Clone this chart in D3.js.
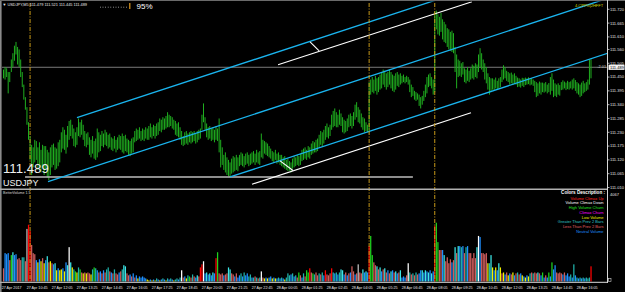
<!DOCTYPE html>
<html>
<head>
<meta charset="utf-8">
<script src="https://cdn.jsdelivr.net/npm/d3@7"></script>
<style>
  body { margin: 0; background: #000; }
  svg { display: block; }
</style>
</head>
<body>
<svg id="chart" width="625" height="292"></svg>
<script>
// prices in points above BASE (111.000), one entry per M5 bar
const BASE = 111;
const hiPts = [
  480,490,485,470,470,520,545,575,590,570, 560,520,470,420,370,330,270,215,180,170,
  200,195,170,190,160,180,175,175,160,150, 170,180,185,170,165,190,200,230,250,240,
  220,255,275,280,260,245,230,250,285,270, 280,260,235,225,230,210,200,215,195,205,
  245,230,220,235,225,240,230,220,225,210, 205,215,200,210,220,215,225,215,220,205,
  200,195,205,210,235,245,240,250,235,245, 240,250,245,255,265,250,260,255,265,270,
  285,280,290,285,295,310,300,295,290,280, 275,265,270,250,235,215,230,235,225,230,
  235,230,235,225,235,240,245,300,345,290, 265,250,255,245,250,240,255,245,285,200,
  170,140,150,130,120,110,125,135,130,140, 130,140,150,145,135,145,150,140,145,150,
  155,145,160,150,155,225,200,195,190,185, 175,165,155,150,160,145,150,140,140,130,
  135,120,125,115,110,125,135,130,140,135, 145,160,165,170,160,175,170,185,195,190,
  200,205,220,235,230,240,255,265,250,260, 300,315,325,310,300,320,305,290,280,275,
  285,300,305,295,310,340,350,330,320,305, 290,285,270,260,430,440,450,440,455,445,
  450,460,470,480,475,465,470,480,470,460, 455,465,470,460,465,455,460,450,455,450,
  440,420,410,395,390,385,380,370,375,395, 420,450,460,465,450,440,710,715,700,690,
  705,680,670,660,645,640,630,635,625,570, 540,520,515,505,510,485,480,490,475,485,
  500,495,505,500,540,565,545,520,505,490, 465,450,445,445,440,448,435,445,450,480,
  497,490,475,470,465,468,460,465,455,448, 445,440,447,445,448,445,449,444,446,440,
  435,430,425,432,428,428,425,430,420,426, 450,465,440,425,420,425,418,430,437,432,
  428,435,430,433,440,445,438,430,425,420, 428,435,425,430,440,520,521
];
const loPts = [
  445,440,450,385,430,470,490,515,540,500, 490,450,410,360,320,260,200,120,60,90,
  110,120,80,100,70,90,60,80,50,40, 60,90,100,80,85,95,110,150,165,160,
  145,170,200,215,205,175,170,180,215,210, 220,200,175,170,180,140,130,145,125,120,
  130,150,155,175,170,180,175,165,170,160, 155,165,150,160,165,160,150,145,155,150,
  140,135,145,150,190,195,200,205,195,200, 195,205,200,200,210,205,215,205,215,220,
  235,230,240,240,245,250,250,255,245,240, 220,215,210,200,180,175,180,185,180,190,
  185,190,195,185,190,200,205,240,270,240, 210,200,205,195,200,190,200,195,150,90,
  100,80,70,60,55,50,65,70,75,80, 75,95,100,95,90,100,105,95,100,105,
  110,100,110,105,100,130,125,145,140,135, 130,125,115,110,120,105,110,100,95,90,
  85,80,75,77,70,85,90,95,100,95, 100,115,120,125,120,130,125,140,145,150,
  150,155,170,180,175,185,200,210,205,215, 240,250,255,250,250,260,255,230,225,230,
  235,250,255,245,255,280,290,270,265,250, 240,230,235,230,230,380,390,385,395,380,
  390,400,405,420,410,400,410,420,405,395, 390,400,415,410,420,425,430,425,430,420,
  390,370,375,360,355,360,335,325,340,355, 370,385,410,415,405,380,390,640,620,615,
  630,600,590,585,570,560,555,550,545,470, 405,450,455,450,460,430,425,435,430,440,
  445,440,450,445,470,490,480,470,440,425, 400,380,390,400,398,405,400,405,410,430,
  440,445,435,430,420,425,418,422,420,410, 412,408,415,410,418,420,422,417,420,415,
  390,370,375,385,380,390,388,392,385,390, 380,395,370,375,370,380,376,398,400,405,
  398,402,400,405,400,405,395,385,380,370, 375,385,390,395,400,420,445
];
const volumes = [
  600,1290,1240,1290,970,1200,1330,1200,1240,1010, 1060,970,1100,1100,920,2390,2580,2300,1660,1290,
  1240,970,870,1010,920,1060,830,970,1150,870, 920,830,780,830,510,600,510,550,600,460,
  870,740,1560,870,640,550,460,410,640,550, 410,370,410,370,410,370,320,550,640,600,
  510,410,460,370,510,410,550,640,460,410, 370,550,370,320,410,460,550,740,690,370,
  280,320,230,370,180,280,140,230,180,230, 180,140,90,50,90,50,90,50,140,90,
  50,90,140,90,50,140,90,140,90,50, 90,140,90,180,510,180,230,140,280,230,
  180,320,230,180,280,230,640,780,920,370, 410,320,370,280,410,370,1060,1330,370,320,
  370,280,320,370,640,550,370,320,230,370, 180,280,370,230,410,280,370,230,320,180,
  180,230,180,140,180,460,180,140,180,140, 180,230,140,180,140,140,180,140,180,140,
  90,180,370,280,320,370,230,280,180,410, 280,180,370,230,510,410,600,410,370,320,
  410,280,370,320,410,280,510,320,280,370, 600,410,370,410,320,410,550,510,320,410,
  280,370,410,690,460,320,370,780,410,370, 550,410,460,410,1610,2070,1200,870,740,690,
  550,640,460,550,600,410,510,370,460,510, 410,460,370,410,510,180,230,180,280,830,
  410,320,370,280,410,320,370,510,510,410, 510,460,410,510,370,460,2530,2670,1790,1430,
  1430,1430,1200,920,1100,830,1010,870,970,1560, 1290,1610,1610,1560,1610,1290,1560,1610,1290,1290,
  1060,1290,1060,1560,2070,2020,1290,1290,1240,1290, 830,830,1200,640,510,640,510,830,640,370,
  410,320,410,280,370,320,410,280,370,410, 320,370,280,230,180,280,230,370,410,370,
  410,370,410,370,280,410,180,280,180,410, 230,870,550,740,410,370,410,370,320,410,
  280,370,230,320,180,780,280,180,140,180, 140,180,140,180,140,180,690
];
// one letter per bar: BetterVolume class
const volumeClass = (
  "lnnnlcgnnl" + "llttlsrrll" + "lnynylyngl" + "ylngynyyny" + "ngwgytcytc" +
  "lylyllytct" + "nlnlnlttln" + "ltllnltggl" + "lnlnlnynnn" + "nnyynynytn" +
  "yntnytntny" + "ttntwlnytc" + "ltlnglrrwn" + "gngngnrcll" + "lnllggllnl" +
  "nntntnnttn" + "tltltwlyny" + "nnynyntntn" + "ytttntntlc" + "lntlccrlct" +
  "lltltnrlll" + "rtntntggnl" + "nlnllnlsll" + "gngnrccllg" + "lgnlglnlgn" +
  "lgnlgnnnlw" + "tltltlnngn" + "gngngnrccl" + "lngllllnlg" + "lgntnltnll" +
  "lllgwnllll" + "ytgynyngyl" + "ynlynlynlt" + "lnynynytlt" + "llglncnlnc" +
  "ncnnllllnl" + "nnntntntnt" + "ntntttr"
).split("");
const classColors = {
  r: "#ff0000", w: "#ffffff", s: "#c0c0c0", c: "#1ed21e", m: "#ff00ff",
  y: "#f0f000", g: "#3ce6e6", t: "#20b2aa", l: "#cd5c5c", n: "#1e90ff"
};
const legendItems = [
  { text: "Volume Climax Up", color: "#ff2020" },
  { text: "Volume Climax Down", color: "#ffffff" },
  { text: "High Volume Churn", color: "#20e020" },
  { text: "Climax Churn", color: "#ff00ff" },
  { text: "Low Volume", color: "#f0f000" },
  { text: "Greater Than Prev 2 Bars", color: "#30c8c8" },
  { text: "Less Than Prev 2 Bars", color: "#e06060" },
  { text: "Neutral Volume", color: "#1e90ff" }
];
const priceTicks = ["111.720","111.665","111.610","111.560","111.505","111.450","111.395",
  "111.340","111.285","111.230","111.175","111.120","111.065","111.010"];
const timeLabels = ["27 Apr 2017","27 Apr 10:45","27 Apr 12:05","27 Apr 13:25","27 Apr 14:45",
  "27 Apr 16:05","27 Apr 17:25","27 Apr 18:45","27 Apr 20:05","27 Apr 21:25","27 Apr 22:45",
  "28 Apr 00:05","28 Apr 01:25","28 Apr 02:45","28 Apr 04:05","28 Apr 05:25","28 Apr 06:45",
  "28 Apr 08:05","28 Apr 09:25","28 Apr 10:45","28 Apr 12:05","28 Apr 13:25","28 Apr 14:45",
  "28 Apr 16:05"];
const barsPerLabel = 16;
const lastPrice = 111.489;
const climaxBars = [17, 234, 276];
// trend objects: bar index / price anchors
const channelLines = [
  { i0: 47, p0: 111.288, i1: 270, p1: 111.743 },
  { i0: 28.5, p0: 111.033, i1: 350, p1: 111.689 },
  { i0: 145, p0: 111.052, i1: 350, p1: 111.470 }
];
const whiteLines = [
  { i0: 175.7, p0: 111.499, i1: 299.8, p1: 111.750 },
  { i0: 196.2, p0: 111.590, i1: 202, p1: 111.554 },
  { i0: 159, p0: 111.023, i1: 299.2, p1: 111.308 },
  { i0: 177, p0: 111.116, i1: 185.3, p1: 111.078 }
];
const levelLine = { i0: 13.8, i1: 262, p: 111.052 };
const volMax = 4067;

let svg = d3.select("#chart");
let font = "Liberation Sans, Arial, sans-serif";
let axisX = 607.5;
let volBase = 281.5;

let x = d3.scaleLinear().domain([0, hiPts.length - 1]).range([3.5, 591]);
let y = d3.scaleLinear().domain([111.010, 111.720]).range([187.5, 9.3]);
let yVol = d3.scaleLinear().domain([0, volMax]).range([volBase, 192]);

svg.append("rect").attr("width", 625).attr("height", 292).attr("fill", "#000");

// clip for main panel
svg.append("clipPath").attr("id", "mainClip")
  .append("rect").attr("x", 2).attr("y", 1.5).attr("width", axisX - 2).attr("height", 187);

let main = svg.append("g").attr("clip-path", "url(#mainClip)");

// current price line
main.append("line")
  .attr("x1", 2).attr("x2", axisX)
  .attr("y1", y(lastPrice)).attr("y2", y(lastPrice))
  .attr("stroke", "#7a7a7a").attr("stroke-width", 1);

// price bars
main.selectAll(".bar")
  .data(hiPts)
  .enter()
  .append("line")
  .attr("x1", (d, i) => x(i)).attr("x2", (d, i) => x(i))
  .attr("y1", d => y(BASE + d / 1000))
  .attr("y2", (d, i) => y(BASE + loPts[i] / 1000))
  .attr("stroke", "#1fae1f")
  .attr("stroke-width", 1);

// horizontal level
main.append("line")
  .attr("x1", x(levelLine.i0)).attr("x2", x(levelLine.i1))
  .attr("y1", y(levelLine.p)).attr("y2", y(levelLine.p))
  .attr("stroke", "#bdbdbd").attr("stroke-width", 1.4);

// channel rays
let iRight = x.invert(axisX + 5);
main.selectAll(".chan")
  .data(channelLines)
  .enter()
  .append("line")
  .attr("x1", d => x(d.i0)).attr("y1", d => y(d.p0))
  .attr("x2", x(iRight))
  .attr("y2", d => y(d.p0 + (d.p1 - d.p0) / (d.i1 - d.i0) * (iRight - d.i0)))
  .attr("stroke", "#1ab4ee").attr("stroke-width", 1.3);

main.selectAll(".wl")
  .data(whiteLines)
  .enter()
  .append("line")
  .attr("x1", d => x(d.i0)).attr("y1", d => y(d.p0))
  .attr("x2", d => x(d.i1)).attr("y2", d => y(d.p1))
  .attr("stroke", "#ffffff").attr("stroke-width", 1.1);

// volume histogram
svg.selectAll(".vol")
  .data(volumes)
  .enter()
  .append("rect")
  .attr("x", (d, i) => x(i) - 0.6)
  .attr("width", 1.25)
  .attr("y", d => yVol(d))
  .attr("height", d => volBase - yVol(d))
  .attr("fill", (d, i) => classColors[volumeClass[i]]);

// climax verticals (dash-dot)
svg.selectAll(".vmark")
  .data(climaxBars)
  .enter()
  .append("line")
  .attr("x1", d => x(d)).attr("x2", d => x(d))
  .attr("y1", 3).attr("y2", volBase)
  .attr("stroke", "#c89a18").attr("stroke-width", 1)
  .attr("stroke-dasharray", "4,1.5,1,1.5");

// frames
svg.append("line").attr("x1", 0.8).attr("x2", 0.8).attr("y1", 0).attr("y2", 292)
  .attr("stroke", "#8a8a8a").attr("stroke-width", 1.6);
svg.append("line").attr("x1", 0).attr("x2", 625).attr("y1", 0.5).attr("y2", 0.5)
  .attr("stroke", "#6a6a6a").attr("stroke-width", 1);
svg.append("line").attr("x1", 0).attr("x2", axisX).attr("y1", 189.3).attr("y2", 189.3)
  .attr("stroke", "#b0b0b0").attr("stroke-width", 1.5);
svg.append("line").attr("x1", 0).attr("x2", axisX).attr("y1", 282.3).attr("y2", 282.3)
  .attr("stroke", "#b0b0b0").attr("stroke-width", 1.2);
svg.append("line").attr("x1", axisX).attr("x2", axisX).attr("y1", 0).attr("y2", 283)
  .attr("stroke", "#d8d8d8").attr("stroke-width", 1);

// price axis
let pAxis = svg.append("g");
priceTicks.forEach(function(t) {
  let py = y(+t);
  pAxis.append("line").attr("x1", axisX).attr("x2", axisX + 2)
    .attr("y1", py).attr("y2", py).attr("stroke", "#d8d8d8").attr("stroke-width", 0.8);
  pAxis.append("text").attr("x", 610).attr("y", py + 1.4)
    .text(t).attr("fill", "#e0e0e0")
    .style("font-family", font).style("font-size", "4px");
});
pAxis.append("rect").attr("x", 608.5).attr("y", y(lastPrice) - 2.6)
  .attr("width", 16).attr("height", 5.2).attr("fill", "#f2f2f2");
pAxis.append("text").attr("x", 610).attr("y", y(lastPrice) + 1.4)
  .text(lastPrice.toFixed(3)).attr("fill", "#000")
  .style("font-family", font).style("font-size", "4px");
svg.append("text").attr("x", 606).attr("y", y(lastPrice) + 1.2)
  .attr("text-anchor", "end").text("-2.01").attr("fill", "#cfcfcf")
  .style("font-family", font).style("font-size", "3.8px");

// volume axis labels
svg.append("text").attr("x", 610).attr("y", 196).text(String(volMax))
  .attr("fill", "#e0e0e0").style("font-family", font).style("font-size", "4px");
svg.append("rect").attr("x", 608.5).attr("y", 278.5).attr("width", 2.5).attr("height", 3)
  .attr("fill", "none").attr("stroke", "#cfcfcf").attr("stroke-width", 0.6);

// time axis
svg.selectAll(".tl")
  .data(timeLabels)
  .enter()
  .append("text")
  .attr("x", (d, i) => x(i * barsPerLabel) - 1.8)
  .attr("y", 288.6)
  .text(d => d)
  .attr("fill", "#e8e8e8")
  .style("font-family", font).style("font-size", "3.7px");

// header
svg.append("text").attr("x", 2.5).attr("y", 6.3)
  .text("\u25BC USDJPY,M5  111.479 111.521 111.445 111.489")
  .attr("fill", "#e8e8e8").style("font-family", font).style("font-size", "3.9px");
svg.append("line").attr("x1", 100).attr("x2", 128).attr("y1", 7.2).attr("y2", 7.2)
  .attr("stroke", "#dddddd").attr("stroke-width", 0.8).attr("stroke-dasharray", "0.8,1.8");
svg.append("line").attr("x1", 129.8).attr("x2", 129.8).attr("y1", 3).attr("y2", 9)
  .attr("stroke", "#e09a20").attr("stroke-width", 1.2);
svg.append("text").attr("x", 136.5).attr("y", 8.6).text("95%")
  .attr("fill", "#ffffff").style("font-family", font).style("font-size", "8px");

svg.append("text").attr("x", 575).attr("y", 7).text("4.CPPG|2HFFT")
  .attr("fill", "#d8d800").style("font-family", font).style("font-size", "4px");

// symbol watermark
svg.append("text").attr("x", 3).attr("y", 173).text(lastPrice.toFixed(3))
  .attr("fill", "#f0f0f0").style("font-family", font).style("font-size", "13.2px");
svg.append("text").attr("x", 3).attr("y", 186).text("USDJPY")
  .attr("fill", "#f0f0f0").style("font-family", font).style("font-size", "9px");

// subwindow title + legend
svg.append("text").attr("x", 3).attr("y", 194.2).text("BetterVolume 1.5")
  .attr("fill", "#d8d8d8").style("font-family", font).style("font-size", "3.6px");
svg.append("text").attr("x", 605).attr("y", 194).attr("text-anchor", "end")
  .text("Colors Description :").attr("fill", "#ffffff")
  .style("font-family", font).style("font-size", "4.6px").style("font-weight", "bold");
svg.selectAll(".leg")
  .data(legendItems)
  .enter()
  .append("text")
  .attr("x", 603.5)
  .attr("y", (d, i) => 199.7 + i * 4.75)
  .attr("text-anchor", "end")
  .text(d => d.text)
  .attr("fill", d => d.color)
  .style("font-family", font).style("font-size", "4px");
</script>
</body>
</html>
